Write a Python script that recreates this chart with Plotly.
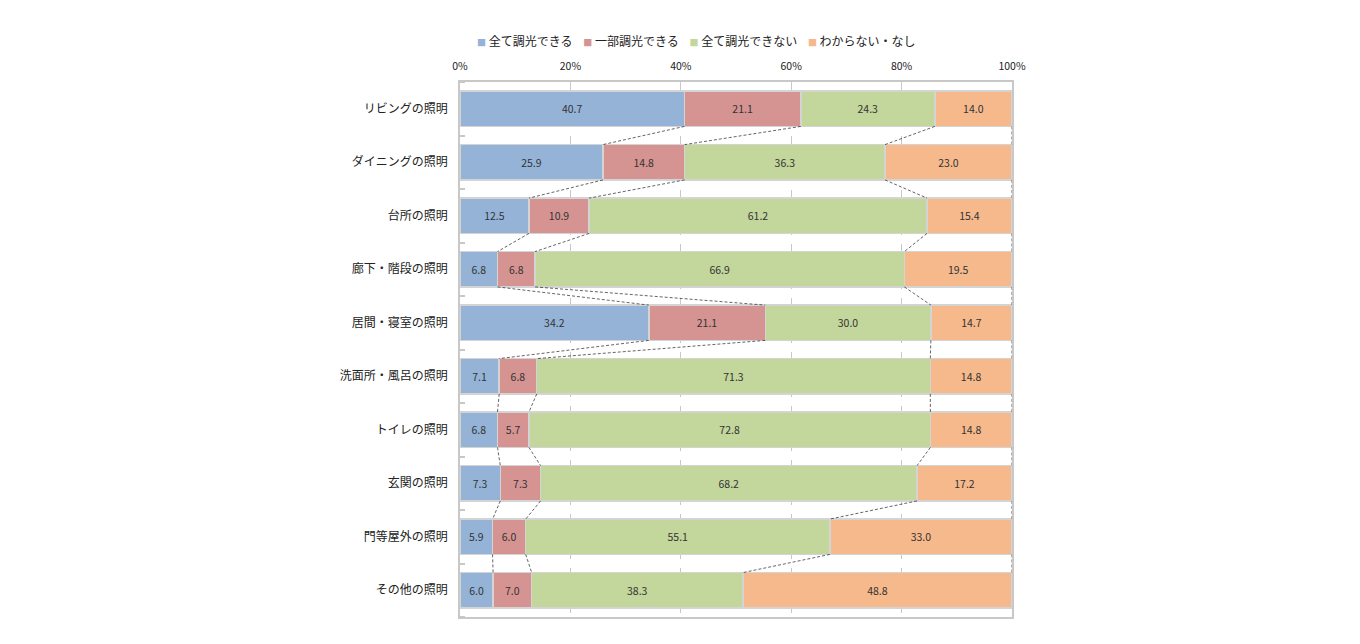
import plotly.graph_objects as go

categories = ["リビングの照明", "ダイニングの照明", "台所の照明", "廊下・階段の照明",
              "居間・寝室の照明", "洗面所・風呂の照明", "トイレの照明", "玄関の照明",
              "門等屋外の照明", "その他の照明"]
series_names = ["全て調光できる", "一部調光できる", "全て調光できない", "わからない・なし"]
all_dim = [40.7, 25.9, 12.5, 6.8, 34.2, 7.1, 6.8, 7.3, 5.9, 6.0]
part_dim = [21.1, 14.8, 10.9, 6.8, 21.1, 6.8, 5.7, 7.3, 6.0, 7.0]
no_dim = [24.3, 36.3, 61.2, 66.9, 30.0, 71.3, 72.8, 68.2, 55.1, 38.3]
unknown = [14.0, 23.0, 15.4, 19.5, 14.7, 14.8, 14.8, 17.2, 33.0, 48.8]
tick_vals = [0, 20, 40, 60, 80, 100]
tick_text = ["0%", "20%", "40%", "60%", "80%", "100%"]

colors = ["#95B3D7", "#D59492", "#C3D69B", "#F5B98C"]
series = [all_dim, part_dim, no_dim, unknown]
FONT = "Noto Sans CJK JP"
BAR_W = 0.66

ypos = list(range(len(categories)))
fig = go.Figure()
for name, vals, col in zip(series_names, series, colors):
    fig.add_trace(go.Bar(
        y=ypos, x=vals, name=name, orientation="h", width=BAR_W,
        marker=dict(color=col, line=dict(color="#D4D4D4", width=1.5)),
        text=[f"{v:.1f}" for v in vals], textposition="inside",
        insidetextanchor="middle", textangle=0,
        textfont=dict(size=10.5, color="#333333", family=FONT),
        constraintext="none", hoverinfo="skip", showlegend=False,
    ))

# series (connector) lines between consecutive bars, from normalized cumulative sums
cum = []
for i in range(len(categories)):
    tot = sum(s[i] for s in series)
    c, acc = [], 0.0
    for s in series[:-1]:
        acc += s[i]
        c.append(acc / tot * 100)
    c.append(100.0)
    cum.append(c)
lx, ly = [], []
for i in range(len(categories) - 1):
    for k in range(4):
        lx += [cum[i][k], cum[i + 1][k], None]
        ly += [i + BAR_W / 2, i + 1 - BAR_W / 2, None]
fig.add_trace(go.Scatter(x=lx, y=ly, mode="lines", showlegend=False,
                         line=dict(color="#222222", width=0.7, dash="3px,2px"),
                         hoverinfo="skip"))

# legend drawn as a single text line with coloured squares
legend_txt = "    ".join(
    f"<span style='color:{c};font-size:9px'>■</span> {n}"
    for n, c in zip(series_names, colors))
fig.add_annotation(text=legend_txt, xref="paper", yref="paper",
                   x=0.429, y=1.0785, xanchor="center", yanchor="middle",
                   showarrow=False, font=dict(size=12, color="#222222", family=FONT))

fig.update_layout(
    barmode="stack", barnorm="percent",
    width=1360, height=644,
    margin=dict(l=452, r=356, t=74, b=35),
    paper_bgcolor="white", plot_bgcolor="white",
    font=dict(family=FONT, size=12, color="#222222"),
    showlegend=False,
)
fig.update_xaxes(range=[0, 100], side="top", tickvals=tick_vals, ticktext=tick_text,
                 tickfont=dict(size=10.5, color="#222222"),
                 showgrid=True, gridcolor="#C8C8C8", griddash="dash", gridwidth=1,
                 showline=True, linecolor="#C8C8C8", linewidth=1.5, mirror=True,
                 zeroline=False, ticks="", ticklabelstandoff=6)
fig.update_yaxes(tickvals=ypos, ticktext=categories, range=[len(categories) - 0.5, -0.5],
                 tickfont=dict(size=12, color="#222222"),
                 showgrid=False, showline=True, linecolor="#C8C8C8", linewidth=1.5,
                 mirror=True, zeroline=False, ticks="", ticklabelstandoff=8,
                 minor=dict(tickvals=[i - 0.5 for i in range(len(categories) + 1)],
                            ticks="inside", ticklen=5, tickcolor="#C8C8C8",
                            tickwidth=1.5, showgrid=False))

fig.write_html("out.html")
